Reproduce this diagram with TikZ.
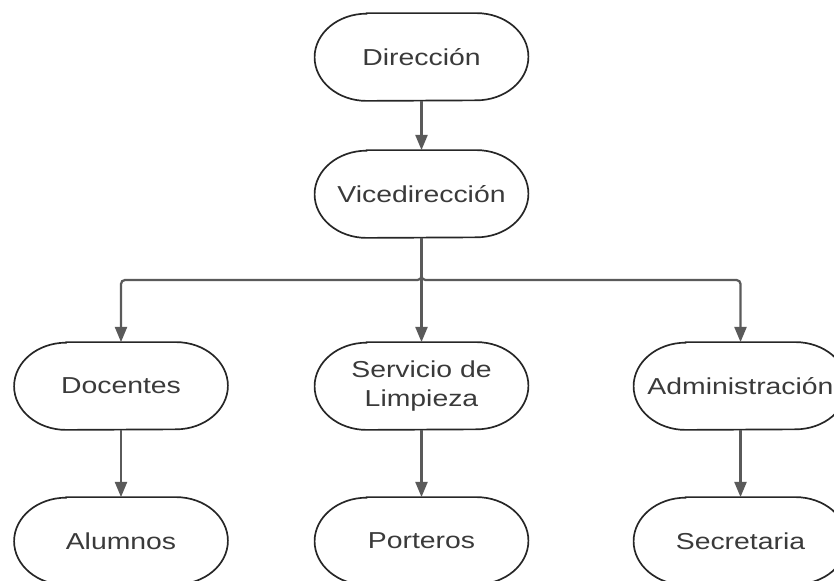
\documentclass[tikz,border=0pt]{standalone}
\usepackage{fontspec}
\setmainfont{Liberation Sans}[FakeStretch=1.23]
\usetikzlibrary{arrows.meta}
\definecolor{textgray}{HTML}{3A3A3A}
\definecolor{linegray}{HTML}{5A5A5A}

\begin{document}
\begin{tikzpicture}[
            x=0.025cm, y=-0.025cm,
            box/.style={
                rectangle,
                draw=none,
                minimum width=5.33cm,
                minimum height=2.18cm,
                inner sep=0pt,
                align=center,
                text=textgray,
                font=\fontsize{16.4}{20.6}\selectfont,
                append after command={\pgfextra{
                    \draw[draw=black!85, line width=1.2pt]
                    ([xshift=1.3cm]\tikzlastnode.north west) -- ([xshift=-1.3cm]\tikzlastnode.north east)
                    arc[start angle=90, end angle=-90, x radius=1.3cm, y radius=1.09cm]
                    -- ([xshift=1.3cm]\tikzlastnode.south west)
                    arc[start angle=270, end angle=90, x radius=1.3cm, y radius=1.09cm]
                    -- cycle;
                }}
            },
            arrow/.style={-{Triangle[length=0.38cm,width=0.3cm]}, draw=linegray, line width=1.6pt, rounded corners=0.1cm}
        ]
        
        % Page size
        \useasboundingbox (0,0) rectangle (834,580);
        \clip (0,0) rectangle (834,580);
        
        % Top levels
        \node[box] (dir) at (421.5,57) {Dirección};
        \node[box] (vice) at (421.5,194) {Vicedirección};
        
        % Second level
        \node[box] (doc) at (121,386) {Docentes};
        \node[box] (serv) at (421.5,386) {Servicio de\\Limpieza};
        \node[box] (adm) at (740.5,386) {Administración};
        
        % Third level
        \node[box] (alu) at (121,541) {Alumnos};
        \node[box] (por) at (421.5,541) {Porteros};
        \node[box] (sec) at (740.5,541) {Secretaria};
        
        % Branch point
        \coordinate (bus) at (421.5,280);
        
        % Connecting arrows
        \draw[arrow] (dir) -- (vice);
        \draw[arrow] (vice.south) -- (bus) -| (doc.north);
        \draw[arrow] (vice.south) -- (serv.north);
        \draw[arrow] (vice.south) -- (bus) -| (adm.north);
        \draw[arrow] (doc) -- (alu);
        \draw[arrow] (serv) -- (por);
        \draw[arrow] (adm) -- (sec);
        
        \end{tikzpicture}
\end{document}
